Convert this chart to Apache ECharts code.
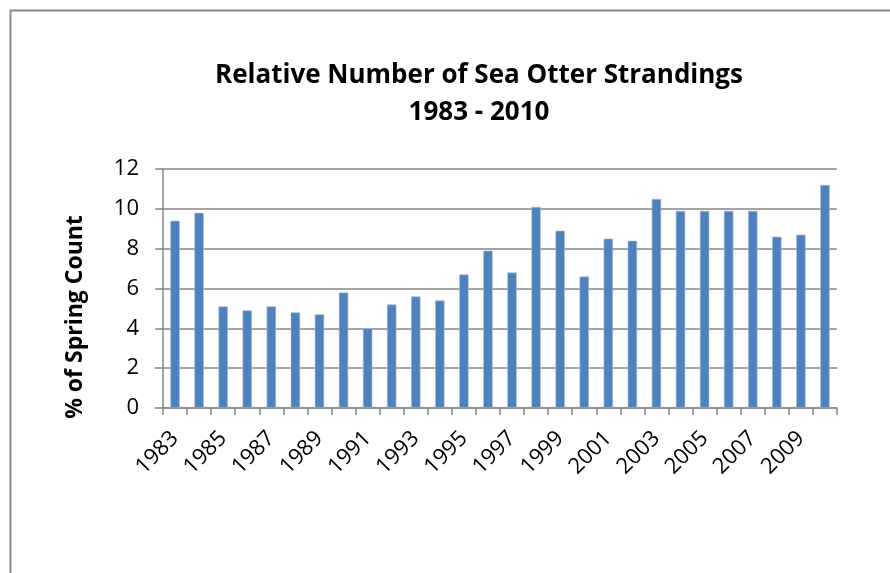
<!DOCTYPE html>
<html>
<head>
<meta charset="utf-8">
<script src="https://cdn.jsdelivr.net/npm/echarts@6/dist/echarts.min.js"></script>
<style>
html,body{margin:0;padding:0;background:#fff;}
#chart{width:890px;height:573px;}
</style>
</head>
<body>
<div id="chart"></div>
<script>
var years = ['1983','1984','1985','1986','1987','1988','1989','1990','1991','1992','1993','1994','1995','1996','1997','1998','1999','2000','2001','2002','2003','2004','2005','2006','2007','2008','2009','2010'];
var pctSpringCount = [9.4,9.8,5.1,4.9,5.1,4.8,4.7,5.8,4.0,5.2,5.6,5.4,6.7,7.9,6.8,10.1,8.9,6.6,8.5,8.4,10.5,9.9,9.9,9.9,9.9,8.6,8.7,11.2];
var titleLines = ['Relative Number of Sea Otter Strandings', '1983 - 2010'];
var yAxisTitle = '% of Spring Count';

var chart = echarts.init(document.getElementById('chart'), null, {renderer:'canvas'});
var font = 'Open Sans';
chart.setOption({
  animation:false,
  backgroundColor:'#fff',
  graphic:[{
    type:'rect', left:8, top:8, shape:{x:0,y:0,width:900,height:600},
    style:{fill:'none', stroke:'#8a8a8a', lineWidth:2}, silent:true, z:-1
  },{
    type:'text', x:75, y:317, rotation:Math.PI/2,
    style:{text:yAxisTitle, fontFamily:font, fontWeight:'bold', fontSize:23, fill:'#000', align:'center', verticalAlign:'middle'},
    silent:true
  }],
  title:{
    text:titleLines.join('\n'),
    left:474, textAlign:'center', top:52,
    textStyle:{fontFamily:font, fontWeight:'bold', fontSize:26, color:'#000', lineHeight:37}
  },
  grid:{left:163, right:53, top:169, bottom:165, containLabel:false},
  xAxis:{
    type:'category', data:years,
    axisLine:{lineStyle:{color:'#868686', width:1.5}},
    axisTick:{show:true, length:7, alignWithLabel:false, interval:0, lineStyle:{color:'#868686', width:1.5}},
    axisLabel:{interval:1, rotate:45, margin:27, fontFamily:font, fontSize:22, color:'#000'}
  },
  yAxis:{
    type:'value', min:0, max:12, interval:2,
    axisLine:{show:true, lineStyle:{color:'#868686', width:1.5}},
    axisTick:{show:true, length:8, lineStyle:{color:'#868686', width:1.5}},
    axisLabel:{margin:24, fontFamily:font, fontSize:22, color:'#000'},
    splitLine:{lineStyle:{color:'#868686', width:1.5}}
  },
  series:[{
    type:'bar', data:pctSpringCount, barWidth:'39%',
    itemStyle:{color:'#4f81bd', borderColor:'#a7bfde', borderWidth:0.6}
  }]
});
</script>
</body>
</html>
